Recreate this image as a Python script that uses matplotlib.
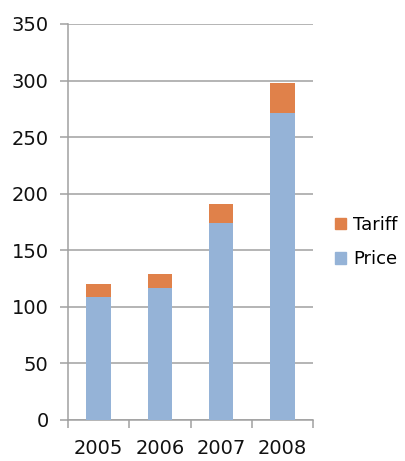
import numpy as np
import matplotlib.pyplot as plt
from matplotlib.patches import Patch
from matplotlib.ticker import FixedLocator, NullFormatter

# data
years = ['2005', '2006', '2007', '2008']
price = [109, 117, 174, 271]
tariff = [11, 12, 17, 27]

price_color = '#95b3d7'
tariff_color = '#e0814a'
grid_color = '#a0a0a0'

plt.rcParams['font.family'] = ['DejaVu Sans']

fig = plt.figure(figsize=(4.06, 4.61), dpi=100)
ax = fig.add_axes([0.1675, 0.089, 0.771 - 0.1675, 0.948 - 0.089])

x = np.arange(len(years))
ax.bar(x, price, width=0.4, color=price_color, zorder=3)
ax.bar(x, tariff, width=0.4, bottom=price, color=tariff_color, zorder=3)

ax.set_xlim(-0.5, len(years) - 0.5)
ax.set_ylim(0, 350)
ax.set_yticks(np.arange(0, 351, 50))
ax.yaxis.grid(True, color=grid_color, linewidth=1.1, zorder=0)

# category labels centred, tick marks on the category boundaries
ax.set_xticks(x)
ax.set_xticklabels(years, fontsize=14, color='#111111')
ax.tick_params(axis='x', which='major', length=0, pad=14)
ax.xaxis.set_minor_locator(FixedLocator(np.arange(-0.5, len(years), 1.0)))
ax.xaxis.set_minor_formatter(NullFormatter())
ax.tick_params(axis='x', which='minor', length=6, color=grid_color, width=1.1)
ax.tick_params(axis='y', length=6, color=grid_color, width=1.1, labelsize=14,
               labelcolor='#111111', pad=8)

for side in ['top', 'right']:
    ax.spines[side].set_visible(False)
ax.spines['left'].set_color(grid_color)
ax.spines['bottom'].set_color(grid_color)
ax.spines['left'].set_linewidth(1.1)
ax.spines['bottom'].set_linewidth(1.1)

handles = [Patch(color=tariff_color, label='Tariff'),
           Patch(color=price_color, label='Price')]
fig.legend(handles=handles, loc='center left', bbox_to_anchor=(0.825, 0.475),
           frameon=False, fontsize=13, handlelength=0.6, handleheight=0.6,
           handletextpad=0.4, labelspacing=0.9, borderpad=0, borderaxespad=0)

fig.savefig('out.png', dpi=100)
